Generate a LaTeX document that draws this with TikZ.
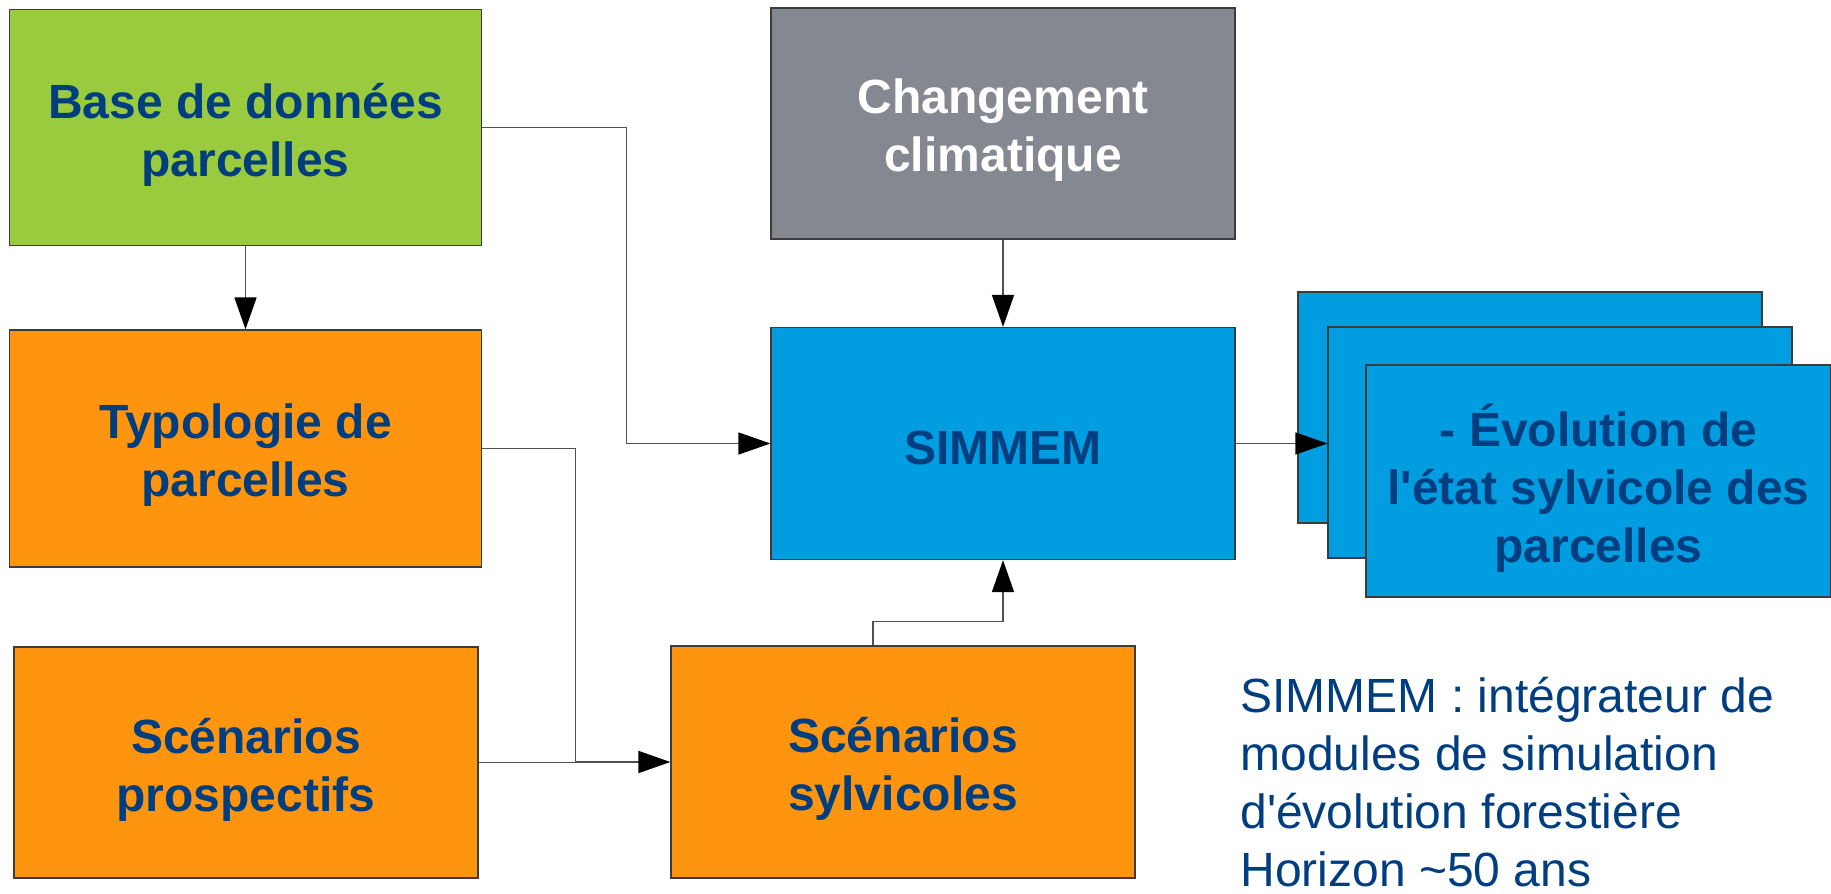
\documentclass[tikz,border=0pt]{standalone}
\usepackage{fontspec}
\setmainfont{Liberation Sans}
\usetikzlibrary{arrows.meta,calc}
\definecolor{txtblue}{RGB}{0,62,128}
\definecolor{boxgreen}{RGB}{154,203,62}
\definecolor{boxorange}{RGB}{255,149,14}
\definecolor{boxgray}{RGB}{133,136,145}
\definecolor{boxblue}{RGB}{0,158,224}
\definecolor{edgegray}{RGB}{60,60,60}
\definecolor{conngray}{RGB}{80,80,80}
\tikzset{
  box/.style={draw=edgegray, line width=0.6pt, rectangle, inner sep=0pt},
  lbl/.style={align=center, text=txtblue, inner sep=0pt, yshift=-3.5pt,
    font=\bfseries\fontsize{24}{29}\selectfont},
  conn/.style={draw=conngray, line width=0.75pt},
  arr/.style={conn, -{Triangle[length=16pt,width=11pt,black]}},
}
\begin{document}
\begin{tikzpicture}[x=0.5pt,y=-0.5pt]
\useasboundingbox (0,0) rectangle (1831,894);
% boxes
\node[box, fill=boxgreen, minimum width=236pt, minimum height=118pt,
  label={[lbl]center:Base de données\\parcelles}] (green) at (245.5,127.5) {};
\node[box, fill=boxorange, minimum width=236pt, minimum height=118.5pt,
  label={[lbl]center:Typologie de\\parcelles}] (typo) at (245.5,448.5) {};
\node[box, fill=boxorange, minimum width=232pt, minimum height=115.5pt,
  label={[lbl]center:Scénarios\\prospectifs}] (prosp) at (246,762.5) {};
\node[box, fill=boxgray, minimum width=232pt, minimum height=115.5pt,
  label={[lbl,text=white]center:Changement\\climatique}] (climat) at (1003,123.5) {};
\node[box, fill=boxblue, minimum width=232pt, minimum height=116pt,
  label={[lbl,yshift=1.5pt]center:SIMMEM}] (simmem) at (1003,443.5) {};
\node[box, fill=boxorange, minimum width=232pt, minimum height=116pt,
  label={[lbl]center:Scénarios\\sylvicoles}] (sylv) at (903,762) {};
% stacked result boxes
\node[box, fill=boxblue, minimum width=232pt, minimum height=115.5pt] (back) at (1530,407.5) {};
\node[box, fill=boxblue, minimum width=232pt, minimum height=115.5pt] (mid) at (1560,442.5) {};
% connectors
\draw[arr] (green.south) -- (typo.north);
\draw[arr] (climat.south) -- (simmem.north);
\draw[arr] (green.east) -| ($(simmem.west)+(-144,0)$) -- (simmem.west);
\coordinate (join) at ($(sylv.west)+(-95,0)$);
\draw[conn] (typo.east) -| (join);
\draw[conn] (prosp.east) -- (prosp.east -| join);
\draw[arr] (join) -- (sylv.west);
\coordinate (sylvup) at ($(sylv.north)+(-30,0)$);
\draw[arr] (sylvup) -- ++(0,-24) -| (simmem.south);
\draw[arr] (simmem.east) -- (simmem.east -| mid.west);
\node[box, fill=boxblue, minimum width=232.5pt, minimum height=116pt,
  label={[lbl]center:- Évolution de\\l\textquotesingle état sylvicole des\\parcelles}] (front) at (1598.5,481) {};
% annotation
\node[anchor=base west, inner sep=0pt, align=left, text=txtblue,
  font=\fontsize{24}{29}\selectfont] (note) at (1240,886)
  {SIMMEM : intégrateur de\\modules de simulation\\d\textquotesingle évolution forestière\\Horizon \textasciitilde50 ans};
\end{tikzpicture}
\end{document}
